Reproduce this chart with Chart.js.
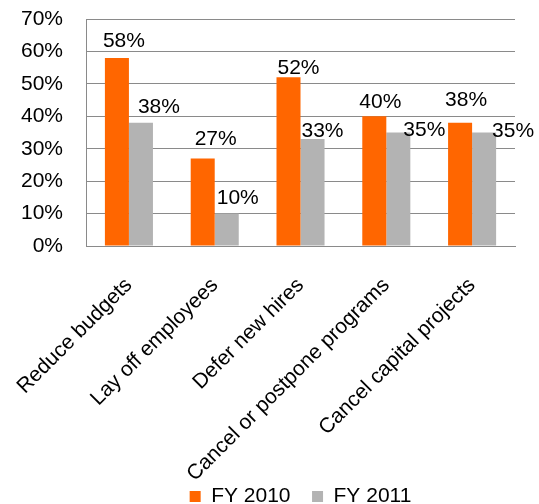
<!DOCTYPE html>
<html>
<head>
<meta charset="utf-8">
<script src="https://cdn.jsdelivr.net/npm/chart.js@4/dist/chart.umd.min.js"></script>
<style>
  html,body{margin:0;padding:0;background:#fff;}
  #wrap{width:539px;height:504px;}
</style>
</head>
<body>
<div id="wrap"><canvas id="c" width="539" height="504"></canvas></div>
<script>
const categories = ["Reduce budgets","Lay off employees","Defer new hires","Cancel or postpone programs","Cancel capital projects"];
const fy2010 = [58, 27, 52, 40, 38];
const fy2011 = [38, 10, 33, 35, 35];
const seriesNames = ["FY 2010","FY 2011"];

// label placement tweaks (pixels, relative to bar centre / bar top)
const labelDx = [[7,13,10,6,6],[18,11,10,26,29]];
const labelGap = [[11,13,3,8,17],[10,10,2,-3,-4]];

const FONT = "'Liberation Sans', Arial, sans-serif";

const labelPlugin = {
  id: 'barLabels',
  afterDatasetsDraw(chart) {
    const ctx = chart.ctx;
    ctx.save();
    ctx.font = "21px " + FONT;
    ctx.fillStyle = "#000";
    ctx.textAlign = "center";
    ctx.textBaseline = "alphabetic";
    chart.data.datasets.forEach((ds, di) => {
      const meta = chart.getDatasetMeta(di);
      meta.data.forEach((bar, i) => {
        ctx.fillText(ds.data[i] + "%", bar.x + labelDx[di][i], bar.y - labelGap[di][i]);
      });
    });
    ctx.restore();
  }
};

// let the rotated category labels extend over the legend strip without being clipped
const unclipPlugin = {
  id: 'unclipX',
  afterLayout(chart) {
    chart.scales.x.bottom = chart.height;
  }
};

Chart.defaults.font.family = FONT;
Chart.defaults.color = "#000";

const chart = new Chart(document.getElementById('c'), {
  type: 'bar',
  data: {
    labels: categories,
    datasets: [
      { label: seriesNames[0], data: fy2010, backgroundColor: "#FF6600", barPercentage: 1.0, categoryPercentage: 0.56 },
      { label: seriesNames[1], data: fy2011, backgroundColor: "#B3B3B3", barPercentage: 1.0, categoryPercentage: 0.56 }
    ]
  },
  options: {
    responsive: false,
    animation: false,
    layout: { padding: { left: -2, right: 24, top: 0, bottom: -13 } },
    plugins: {
      legend: {
        position: 'bottom',
        fullSize: false,
        labels: {
          font: { size: 21 },
          boxWidth: 11,
          boxHeight: 11,
          padding: 21.5,
          color: "#000"
        }
      },
      tooltip: { enabled: false }
    },
    scales: {
      x: {
        grid: { display: false, drawTicks: false },
        border: { display: true, color: "#8a8a8a", width: 1 },
        ticks: { font: { size: 21 }, maxRotation: 45, minRotation: 45, padding: 27, color: "#000", autoSkip: false },
        afterFit: s => { s.paddingLeft = 0; s.paddingRight = 0; s.height = 218.5; }
      },
      y: {
        min: 0, max: 70,
        grid: { color: "#8a8a8a", drawTicks: false, lineWidth: 1 },
        border: { display: true, color: "#8a8a8a", width: 1 },
        ticks: { stepSize: 10, font: { size: 21 }, padding: 23, color: "#000", autoSkip: false, callback: v => v + "%" },
        afterFit: s => { s.paddingTop = 19; s.paddingBottom = 0; }
      }
    }
  },
  plugins: [labelPlugin, unclipPlugin]
});
</script>
</body>
</html>
